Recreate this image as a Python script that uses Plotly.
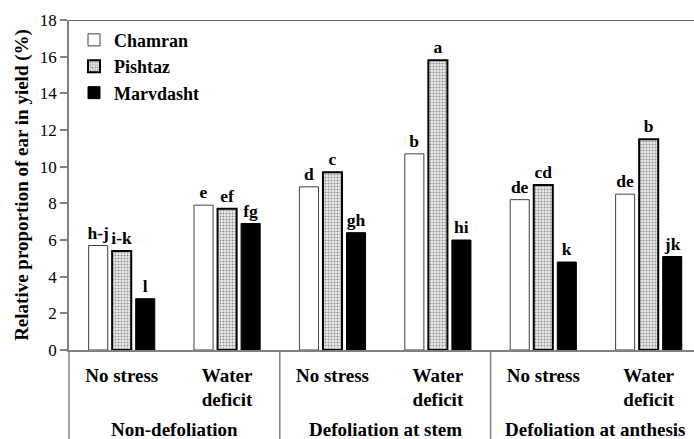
import plotly.graph_objects as go

subcats = ["No stress", "Water<br>deficit", "No stress ", "Water<br>deficit ", "No stress  ", "Water<br>deficit  "]
groups = ["Non-defoliation", "Defoliation at stem", "Defoliation at anthesis"]
group_pos = [0.5, 2.5, 4.5]
dividers = [1.5, 3.5]

chamran = [5.7, 7.9, 8.9, 10.7, 8.2, 8.5]
pishtaz = [5.4, 7.7, 9.7, 15.8, 9.0, 11.5]
marvdasht = [2.8, 6.9, 6.4, 6.0, 4.8, 5.1]

chamran_lbl = ["h-j", "e", "d", "b", "de", "de"]
pishtaz_lbl = ["i-k", "ef", "c", "a", "cd", "b"]
marvdasht_lbl = ["l", "fg", "gh", "hi", "k", "jk"]

serif = "Liberation Serif"
lblfont = dict(family=serif, size=17.5, color="black")

fig = go.Figure()
fig.add_trace(go.Bar(
    name="<b>Chamran</b>", x=subcats, y=chamran, text=["<b>%s</b>" % t for t in chamran_lbl],
    textposition="outside", constraintext="none", cliponaxis=False, textfont=lblfont,
    marker=dict(color="white", line=dict(color="#404040", width=1)),
))
fig.add_trace(go.Bar(
    name="<b>Pishtaz</b>", x=subcats, y=pishtaz, text=["<b>%s</b>" % t for t in pishtaz_lbl],
    textposition="outside", constraintext="none", cliponaxis=False, textfont=lblfont,
    marker=dict(color="white", line=dict(color="black", width=2),
                pattern=dict(shape=".", fgcolor="#333333", bgcolor="#eeeeee", size=3, solidity=0.4)),
))
fig.add_trace(go.Bar(
    name="<b>Marvdasht</b>", x=subcats, y=marvdasht, text=["<b>%s</b>" % t for t in marvdasht_lbl],
    textposition="outside", constraintext="none", cliponaxis=False, textfont=lblfont,
    marker=dict(color="black", line=dict(color="black", width=1)),
))

# group labels
for g, p in zip(groups, group_pos):
    fig.add_annotation(x=p, y=-0.24, xref="x", yref="paper", text="<b>%s</b>" % g,
                       showarrow=False, yanchor="middle", font=dict(family=serif, size=19, color="black"))
# divider lines
for d in dividers:
    fig.add_shape(type="line", x0=d, x1=d, xref="x", y0=0, y1=-0.3, yref="paper",
                  line=dict(color="#808080", width=1.5))
# left axis extension
fig.add_shape(type="line", x0=0, x1=0, xref="paper", y0=0, y1=-0.3, yref="paper",
              line=dict(color="#808080", width=1.5))
# top line
fig.add_shape(type="line", x0=0, x1=1, xref="paper", y0=18, y1=18, yref="y",
              line=dict(color="#333333", width=1.5))

fig.update_layout(
    width=694, height=439,
    margin=dict(l=69, r=0, t=20, b=89, autoexpand=False),
    paper_bgcolor="white", plot_bgcolor="white",
    barmode="group", bargap=0.33, bargroupgap=0.19,
    font=dict(family=serif, color="black"),
    showlegend=True,
    legend=dict(x=0.008, y=0.995, xanchor="left", yanchor="top", bgcolor="rgba(0,0,0,0)",
                font=dict(family=serif, size=18, color="black"), tracegroupgap=0,
                itemwidth=30),
    xaxis=dict(type="category", range=[-0.5, 5.43], showline=True, linecolor="#808080", linewidth=1.5,
               ticks="", tickfont=dict(family=serif, size=19, color="black"), automargin=False,
               ticklabelstandoff=7, showgrid=False, zeroline=False,
               tickvals=subcats, ticktext=["<b>No stress</b>", "<b>Water</b><br><b>deficit</b>"] * 3),
    yaxis=dict(range=[0, 18], dtick=2, showline=True, linecolor="#808080", linewidth=1.5,
               ticks="outside", ticklen=7, tickcolor="#808080", tickwidth=1.5, automargin=False,
               tickfont=dict(family=serif, size=17, color="black"), showgrid=False, zeroline=False,
               title=dict(text="<b>Relative proportion of ear in yield (%)</b>",
                          font=dict(family=serif, size=19, color="black"), standoff=6)),
)

fig.write_html("out.html", config={"displayModeBar": False},
               post_script="document.body.style.margin='0px';")
